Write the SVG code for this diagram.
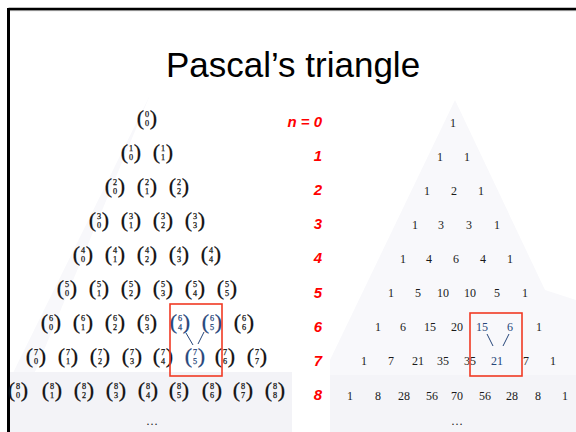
<svg xmlns="http://www.w3.org/2000/svg" width="576" height="432" viewBox="0 0 576 432">
<style>
.bn{font-family:"Liberation Serif",serif;text-anchor:middle;fill:#111;stroke:#111}
.bn .p{font-size:22px;stroke-width:0.3}
.bn .q{font-size:8.2px;stroke-width:0.25}
.hl.bn{fill:#26467a;stroke:#26467a}
.num{font-family:"Liberation Serif",serif;font-size:12px;text-anchor:middle;fill:#1a1a1a}
.num.hl{fill:#26467a}
.lab{font-family:"Liberation Sans",Arial,sans-serif;font-size:15px;font-weight:bold;font-style:italic;fill:#ff0000;text-anchor:end}
.box{fill:none;stroke:#f03a24;stroke-width:1.6}
.con{stroke:#26467a;stroke-width:1;fill:none}
</style>
<rect x="0" y="0" width="576" height="432" fill="#ffffff"/>
<!-- faint scanned backgrounds -->
<g id="background" fill="#f8f8fb">
<polygon points="150,95 8,383 290,383 292,432 10,432"/>
<polygon points="455,100 330,360 330,432 576,432 576,300 545,290"/>
<rect x="10" y="372" width="282" height="60" fill="#f3f3f7"/>
<rect x="330" y="375" width="246" height="57" fill="#f4f4f8"/>
</g>
<!-- slide border -->
<g id="border">
<line x1="8.5" y1="9" x2="576" y2="9" stroke="#000" stroke-width="2.4"/>
<line x1="8.5" y1="8" x2="8.5" y2="432" stroke="#000" stroke-width="3"/>
<line x1="10" y1="10.6" x2="576" y2="10.6" stroke="#8a8a8a" stroke-width="1"/>
</g>
<g id="title"><text x="293" y="77" font-family="Liberation Sans,Arial,sans-serif" font-size="35" text-anchor="middle" fill="#000">Pascal’s triangle</text></g>

<!-- left: binomial coefficients -->
<g id="binomials">
<g id="b0-0" transform="translate(147,119)"><text class="bn"><tspan class="p" x="-6.5" y="5.5">(</tspan><tspan class="q" x="0" y="-2">0</tspan><tspan class="q" x="0" y="7.2">0</tspan><tspan class="p" x="6.5" y="5.5">)</tspan></text></g>
<g id="b1-0" transform="translate(131,153)"><text class="bn"><tspan class="p" x="-6.5" y="5.5">(</tspan><tspan class="q" x="0" y="-2">1</tspan><tspan class="q" x="0" y="7.2">0</tspan><tspan class="p" x="6.5" y="5.5">)</tspan></text></g>
<g id="b1-1" transform="translate(163,153)"><text class="bn"><tspan class="p" x="-6.5" y="5.5">(</tspan><tspan class="q" x="0" y="-2">1</tspan><tspan class="q" x="0" y="7.2">1</tspan><tspan class="p" x="6.5" y="5.5">)</tspan></text></g>
<g id="b2-0" transform="translate(115,187)"><text class="bn"><tspan class="p" x="-6.5" y="5.5">(</tspan><tspan class="q" x="0" y="-2">2</tspan><tspan class="q" x="0" y="7.2">0</tspan><tspan class="p" x="6.5" y="5.5">)</tspan></text></g>
<g id="b2-1" transform="translate(147,187)"><text class="bn"><tspan class="p" x="-6.5" y="5.5">(</tspan><tspan class="q" x="0" y="-2">2</tspan><tspan class="q" x="0" y="7.2">1</tspan><tspan class="p" x="6.5" y="5.5">)</tspan></text></g>
<g id="b2-2" transform="translate(179,187)"><text class="bn"><tspan class="p" x="-6.5" y="5.5">(</tspan><tspan class="q" x="0" y="-2">2</tspan><tspan class="q" x="0" y="7.2">2</tspan><tspan class="p" x="6.5" y="5.5">)</tspan></text></g>
<g id="b3-0" transform="translate(99,221)"><text class="bn"><tspan class="p" x="-6.5" y="5.5">(</tspan><tspan class="q" x="0" y="-2">3</tspan><tspan class="q" x="0" y="7.2">0</tspan><tspan class="p" x="6.5" y="5.5">)</tspan></text></g>
<g id="b3-1" transform="translate(131,221)"><text class="bn"><tspan class="p" x="-6.5" y="5.5">(</tspan><tspan class="q" x="0" y="-2">3</tspan><tspan class="q" x="0" y="7.2">1</tspan><tspan class="p" x="6.5" y="5.5">)</tspan></text></g>
<g id="b3-2" transform="translate(163,221)"><text class="bn"><tspan class="p" x="-6.5" y="5.5">(</tspan><tspan class="q" x="0" y="-2">3</tspan><tspan class="q" x="0" y="7.2">2</tspan><tspan class="p" x="6.5" y="5.5">)</tspan></text></g>
<g id="b3-3" transform="translate(195,221)"><text class="bn"><tspan class="p" x="-6.5" y="5.5">(</tspan><tspan class="q" x="0" y="-2">3</tspan><tspan class="q" x="0" y="7.2">3</tspan><tspan class="p" x="6.5" y="5.5">)</tspan></text></g>
<g id="b4-0" transform="translate(83,255)"><text class="bn"><tspan class="p" x="-6.5" y="5.5">(</tspan><tspan class="q" x="0" y="-2">4</tspan><tspan class="q" x="0" y="7.2">0</tspan><tspan class="p" x="6.5" y="5.5">)</tspan></text></g>
<g id="b4-1" transform="translate(115,255)"><text class="bn"><tspan class="p" x="-6.5" y="5.5">(</tspan><tspan class="q" x="0" y="-2">4</tspan><tspan class="q" x="0" y="7.2">1</tspan><tspan class="p" x="6.5" y="5.5">)</tspan></text></g>
<g id="b4-2" transform="translate(147,255)"><text class="bn"><tspan class="p" x="-6.5" y="5.5">(</tspan><tspan class="q" x="0" y="-2">4</tspan><tspan class="q" x="0" y="7.2">2</tspan><tspan class="p" x="6.5" y="5.5">)</tspan></text></g>
<g id="b4-3" transform="translate(179,255)"><text class="bn"><tspan class="p" x="-6.5" y="5.5">(</tspan><tspan class="q" x="0" y="-2">4</tspan><tspan class="q" x="0" y="7.2">3</tspan><tspan class="p" x="6.5" y="5.5">)</tspan></text></g>
<g id="b4-4" transform="translate(211,255)"><text class="bn"><tspan class="p" x="-6.5" y="5.5">(</tspan><tspan class="q" x="0" y="-2">4</tspan><tspan class="q" x="0" y="7.2">4</tspan><tspan class="p" x="6.5" y="5.5">)</tspan></text></g>
<g id="b5-0" transform="translate(67,289)"><text class="bn"><tspan class="p" x="-6.5" y="5.5">(</tspan><tspan class="q" x="0" y="-2">5</tspan><tspan class="q" x="0" y="7.2">0</tspan><tspan class="p" x="6.5" y="5.5">)</tspan></text></g>
<g id="b5-1" transform="translate(99,289)"><text class="bn"><tspan class="p" x="-6.5" y="5.5">(</tspan><tspan class="q" x="0" y="-2">5</tspan><tspan class="q" x="0" y="7.2">1</tspan><tspan class="p" x="6.5" y="5.5">)</tspan></text></g>
<g id="b5-2" transform="translate(131,289)"><text class="bn"><tspan class="p" x="-6.5" y="5.5">(</tspan><tspan class="q" x="0" y="-2">5</tspan><tspan class="q" x="0" y="7.2">2</tspan><tspan class="p" x="6.5" y="5.5">)</tspan></text></g>
<g id="b5-3" transform="translate(163,289)"><text class="bn"><tspan class="p" x="-6.5" y="5.5">(</tspan><tspan class="q" x="0" y="-2">5</tspan><tspan class="q" x="0" y="7.2">3</tspan><tspan class="p" x="6.5" y="5.5">)</tspan></text></g>
<g id="b5-4" transform="translate(195,289)"><text class="bn"><tspan class="p" x="-6.5" y="5.5">(</tspan><tspan class="q" x="0" y="-2">5</tspan><tspan class="q" x="0" y="7.2">4</tspan><tspan class="p" x="6.5" y="5.5">)</tspan></text></g>
<g id="b5-5" transform="translate(227,289)"><text class="bn"><tspan class="p" x="-6.5" y="5.5">(</tspan><tspan class="q" x="0" y="-2">5</tspan><tspan class="q" x="0" y="7.2">5</tspan><tspan class="p" x="6.5" y="5.5">)</tspan></text></g>
<g id="b6-0" transform="translate(51,323)"><text class="bn"><tspan class="p" x="-6.5" y="5.5">(</tspan><tspan class="q" x="0" y="-2">6</tspan><tspan class="q" x="0" y="7.2">0</tspan><tspan class="p" x="6.5" y="5.5">)</tspan></text></g>
<g id="b6-1" transform="translate(83,323)"><text class="bn"><tspan class="p" x="-6.5" y="5.5">(</tspan><tspan class="q" x="0" y="-2">6</tspan><tspan class="q" x="0" y="7.2">1</tspan><tspan class="p" x="6.5" y="5.5">)</tspan></text></g>
<g id="b6-2" transform="translate(115,323)"><text class="bn"><tspan class="p" x="-6.5" y="5.5">(</tspan><tspan class="q" x="0" y="-2">6</tspan><tspan class="q" x="0" y="7.2">2</tspan><tspan class="p" x="6.5" y="5.5">)</tspan></text></g>
<g id="b6-3" transform="translate(147,323)"><text class="bn"><tspan class="p" x="-6.5" y="5.5">(</tspan><tspan class="q" x="0" y="-2">6</tspan><tspan class="q" x="0" y="7.2">3</tspan><tspan class="p" x="6.5" y="5.5">)</tspan></text></g>
<g id="b6-4" transform="translate(180,323)"><text class="bn hl"><tspan class="p" x="-6.5" y="5.5">(</tspan><tspan class="q" x="0" y="-2">6</tspan><tspan class="q" x="0" y="7.2">4</tspan><tspan class="p" x="6.5" y="5.5">)</tspan></text></g>
<g id="b6-5" transform="translate(212,323)"><text class="bn hl"><tspan class="p" x="-6.5" y="5.5">(</tspan><tspan class="q" x="0" y="-2">6</tspan><tspan class="q" x="0" y="7.2">5</tspan><tspan class="p" x="6.5" y="5.5">)</tspan></text></g>
<g id="b6-6" transform="translate(244,323)"><text class="bn"><tspan class="p" x="-6.5" y="5.5">(</tspan><tspan class="q" x="0" y="-2">6</tspan><tspan class="q" x="0" y="7.2">6</tspan><tspan class="p" x="6.5" y="5.5">)</tspan></text></g>
<g id="b7-0" transform="translate(36,357)"><text class="bn"><tspan class="p" x="-6.5" y="5.5">(</tspan><tspan class="q" x="0" y="-2">7</tspan><tspan class="q" x="0" y="7.2">0</tspan><tspan class="p" x="6.5" y="5.5">)</tspan></text></g>
<g id="b7-1" transform="translate(68,357)"><text class="bn"><tspan class="p" x="-6.5" y="5.5">(</tspan><tspan class="q" x="0" y="-2">7</tspan><tspan class="q" x="0" y="7.2">1</tspan><tspan class="p" x="6.5" y="5.5">)</tspan></text></g>
<g id="b7-2" transform="translate(100,357)"><text class="bn"><tspan class="p" x="-6.5" y="5.5">(</tspan><tspan class="q" x="0" y="-2">7</tspan><tspan class="q" x="0" y="7.2">2</tspan><tspan class="p" x="6.5" y="5.5">)</tspan></text></g>
<g id="b7-3" transform="translate(132,357)"><text class="bn"><tspan class="p" x="-6.5" y="5.5">(</tspan><tspan class="q" x="0" y="-2">7</tspan><tspan class="q" x="0" y="7.2">3</tspan><tspan class="p" x="6.5" y="5.5">)</tspan></text></g>
<g id="b7-4" transform="translate(163,357)"><text class="bn"><tspan class="p" x="-6.5" y="5.5">(</tspan><tspan class="q" x="0" y="-2">7</tspan><tspan class="q" x="0" y="7.2">4</tspan><tspan class="p" x="6.5" y="5.5">)</tspan></text></g>
<g id="b7-5" transform="translate(195,357)"><text class="bn hl"><tspan class="p" x="-6.5" y="5.5">(</tspan><tspan class="q" x="0" y="-2">7</tspan><tspan class="q" x="0" y="7.2">5</tspan><tspan class="p" x="6.5" y="5.5">)</tspan></text></g>
<g id="b7-6" transform="translate(225,357)"><text class="bn"><tspan class="p" x="-6.5" y="5.5">(</tspan><tspan class="q" x="0" y="-2">7</tspan><tspan class="q" x="0" y="7.2">6</tspan><tspan class="p" x="6.5" y="5.5">)</tspan></text></g>
<g id="b7-7" transform="translate(257,357)"><text class="bn"><tspan class="p" x="-6.5" y="5.5">(</tspan><tspan class="q" x="0" y="-2">7</tspan><tspan class="q" x="0" y="7.2">7</tspan><tspan class="p" x="6.5" y="5.5">)</tspan></text></g>
<g id="b8-0" transform="translate(18,391)"><text class="bn"><tspan class="p" x="-6.5" y="5.5">(</tspan><tspan class="q" x="0" y="-2">8</tspan><tspan class="q" x="0" y="7.2">0</tspan><tspan class="p" x="6.5" y="5.5">)</tspan></text></g>
<g id="b8-1" transform="translate(52,391)"><text class="bn"><tspan class="p" x="-6.5" y="5.5">(</tspan><tspan class="q" x="0" y="-2">8</tspan><tspan class="q" x="0" y="7.2">1</tspan><tspan class="p" x="6.5" y="5.5">)</tspan></text></g>
<g id="b8-2" transform="translate(84,391)"><text class="bn"><tspan class="p" x="-6.5" y="5.5">(</tspan><tspan class="q" x="0" y="-2">8</tspan><tspan class="q" x="0" y="7.2">2</tspan><tspan class="p" x="6.5" y="5.5">)</tspan></text></g>
<g id="b8-3" transform="translate(116,391)"><text class="bn"><tspan class="p" x="-6.5" y="5.5">(</tspan><tspan class="q" x="0" y="-2">8</tspan><tspan class="q" x="0" y="7.2">3</tspan><tspan class="p" x="6.5" y="5.5">)</tspan></text></g>
<g id="b8-4" transform="translate(148,391)"><text class="bn"><tspan class="p" x="-6.5" y="5.5">(</tspan><tspan class="q" x="0" y="-2">8</tspan><tspan class="q" x="0" y="7.2">4</tspan><tspan class="p" x="6.5" y="5.5">)</tspan></text></g>
<g id="b8-5" transform="translate(179,391)"><text class="bn"><tspan class="p" x="-6.5" y="5.5">(</tspan><tspan class="q" x="0" y="-2">8</tspan><tspan class="q" x="0" y="7.2">5</tspan><tspan class="p" x="6.5" y="5.5">)</tspan></text></g>
<g id="b8-6" transform="translate(212,391)"><text class="bn"><tspan class="p" x="-6.5" y="5.5">(</tspan><tspan class="q" x="0" y="-2">8</tspan><tspan class="q" x="0" y="7.2">6</tspan><tspan class="p" x="6.5" y="5.5">)</tspan></text></g>
<g id="b8-7" transform="translate(243,391)"><text class="bn"><tspan class="p" x="-6.5" y="5.5">(</tspan><tspan class="q" x="0" y="-2">8</tspan><tspan class="q" x="0" y="7.2">7</tspan><tspan class="p" x="6.5" y="5.5">)</tspan></text></g>
<g id="b8-8" transform="translate(275,391)"><text class="bn"><tspan class="p" x="-6.5" y="5.5">(</tspan><tspan class="q" x="0" y="-2">8</tspan><tspan class="q" x="0" y="7.2">8</tspan><tspan class="p" x="6.5" y="5.5">)</tspan></text></g>
<g id="dots-left"><text class="num" x="152" y="425">…</text></g>
</g>

<!-- row labels -->
<g id="labels">
<text class="lab" x="322" y="126.5">n = 0</text>
<text class="lab" x="322" y="160.7">1</text>
<text class="lab" x="322" y="194.9">2</text>
<text class="lab" x="322" y="229.1">3</text>
<text class="lab" x="322" y="263.3">4</text>
<text class="lab" x="322" y="297.5">5</text>
<text class="lab" x="322" y="331.7">6</text>
<text class="lab" x="322" y="365.9">7</text>
<text class="lab" x="322" y="400.1">8</text>
</g>

<!-- right: numeric triangle -->
<g id="numbers">
<g id="r0"><text class="num" x="453" y="127">1</text></g>
<g id="r1"><text class="num" x="440" y="161">1</text><text class="num" x="467" y="161">1</text></g>
<g id="r2"><text class="num" x="427" y="195">1</text><text class="num" x="454" y="195">2</text><text class="num" x="481" y="195">1</text></g>
<g id="r3"><text class="num" x="415" y="229">1</text><text class="num" x="441" y="229">3</text><text class="num" x="469" y="229">3</text><text class="num" x="497" y="229">1</text></g>
<g id="r4"><text class="num" x="403" y="263">1</text><text class="num" x="429" y="263">4</text><text class="num" x="456" y="263">6</text><text class="num" x="483" y="263">4</text><text class="num" x="510" y="263">1</text></g>
<g id="r5"><text class="num" x="391" y="297">1</text><text class="num" x="418" y="297">5</text><text class="num" x="443" y="297">10</text><text class="num" x="470" y="297">10</text><text class="num" x="497" y="297">5</text><text class="num" x="525" y="297">1</text></g>
<g id="r6"><text class="num" x="378" y="331">1</text><text class="num" x="403" y="331">6</text><text class="num" x="430" y="331">15</text><text class="num" x="457" y="331">20</text><text class="num hl" x="482" y="331">15</text><text class="num hl" x="510" y="331">6</text><text class="num" x="539" y="331">1</text></g>
<g id="r7"><text class="num" x="364" y="365">1</text><text class="num" x="391" y="365">7</text><text class="num" x="418" y="365">21</text><text class="num" x="443" y="365">35</text><text class="num" x="470" y="365">35</text><text class="num hl" x="497" y="365">21</text><text class="num" x="526" y="365">7</text><text class="num" x="553" y="365">1</text></g>
<g id="r8"><text class="num" x="350" y="400">1</text><text class="num" x="378" y="400">8</text><text class="num" x="404" y="400">28</text><text class="num" x="432" y="400">56</text><text class="num" x="457" y="400">70</text><text class="num" x="485" y="400">56</text><text class="num" x="512" y="400">28</text><text class="num" x="538" y="400">8</text><text class="num" x="565" y="400">1</text></g>
<g id="dots-right"><text class="num" x="457" y="425">…</text></g>
</g>

<!-- highlight boxes -->
<g id="box-left"><rect class="box" x="170" y="304" width="52" height="72"/></g>
<g id="box-right"><rect class="box" x="470" y="313" width="52" height="63"/></g>

<!-- connectors -->
<g id="connectors">
<line class="con" x1="186" y1="333" x2="193" y2="345"/>
<line class="con" x1="204" y1="332" x2="198" y2="344"/>
<line class="con" x1="487" y1="334" x2="493" y2="346"/>
<line class="con" x1="509" y1="334" x2="503" y2="346"/>
</g>
</svg>
